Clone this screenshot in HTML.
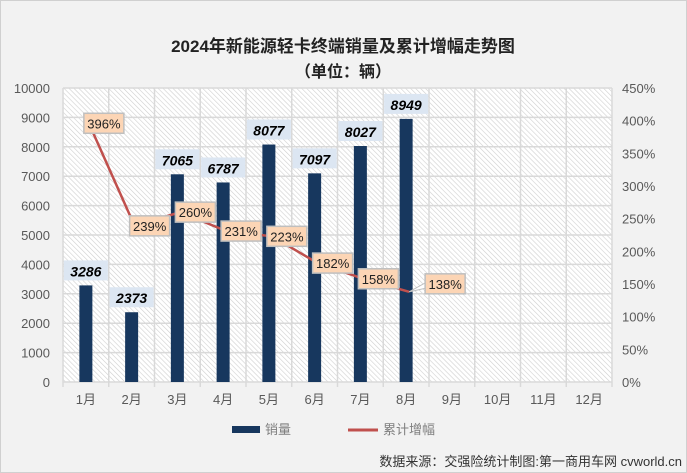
<!DOCTYPE html>
<html><head><meta charset="utf-8"><style>
body{margin:0;background:#f2f2f2;}
svg{display:block;font-family:"Liberation Sans","Noto Sans CJK SC",sans-serif;}
</style></head><body>
<svg id="chart" width="687" height="473" viewBox="0 0 687 473" xmlns="http://www.w3.org/2000/svg">
<defs>
<pattern id="hatch" width="3.5" height="3.5" patternUnits="userSpaceOnUse" patternTransform="rotate(-45)">
<rect width="3.5" height="3.5" fill="#ffffff"/><line x1="0" y1="0" x2="0" y2="3.5" stroke="#cfcfcf" stroke-width="1.2"/>
</pattern>
</defs>
<rect x="0.5" y="0.5" width="686" height="472" fill="#f2f2f2" stroke="#d0d0d0"/>
<text x="343" y="52" text-anchor="middle" font-size="17" font-weight="bold" fill="#222">2024年新能源轻卡终端销量及累计增幅走势图</text>
<text x="343" y="77" text-anchor="middle" font-size="16" font-weight="bold" fill="#222">（单位：辆）</text>
<rect x="63" y="88" width="549" height="294" fill="url(#hatch)"/>
<g id="grid"></g><g id="bars"></g><g id="line"></g><g id="labels"></g><g id="axes"></g>
<g>
<rect x="232" y="426" width="28" height="7" fill="#17375e"/>
<text x="265" y="434" font-size="13" fill="#7f7f7f">销量</text>
<line x1="348" y1="430" x2="378" y2="430" stroke="#c0504d" stroke-width="3"/>
<text x="383" y="434" font-size="13" fill="#7f7f7f">累计增幅</text>
</g>
<text x="682" y="466" text-anchor="end" font-size="13" fill="#333">数据来源：交强险统计制图:第一商用车网 cvworld.cn</text>
</svg>
<script>
const categories=["1月","2月","3月","4月","5月","6月","7月","8月","9月","10月","11月","12月"];
const sales=[3286,2373,7065,6787,8077,7097,8027,8949];
const growth=[396,239,260,231,223,182,158,138];
const leftTicks=[0,1000,2000,3000,4000,5000,6000,7000,8000,9000,10000];
const rightTicks=["0%","50%","100%","150%","200%","250%","300%","350%","400%","450%"];
const NS="http://www.w3.org/2000/svg";
const X0=63,X1=612,Y0=382,Y1=88;
const bw=(X1-X0)/categories.length;
const xc=i=>X0+bw*(i+0.5);
const yL=v=>Y0-(v/10000)*(Y0-Y1);
const yR=v=>Y0-(v/450)*(Y0-Y1);
function mk(tag,attrs,parent,txt){const e=document.createElementNS(NS,tag);for(const k in attrs)e.setAttribute(k,attrs[k]);if(txt!==undefined)e.textContent=txt;document.getElementById(parent).appendChild(e);return e;}
for(let k=0;k<=10;k++){const y=yL(k*1000);const g=mk('line',{x1:X0,x2:X1,y1:y,y2:y,stroke:'#d9d9d9','stroke-width':1.5},'grid');

}
for(let i=0;i<=categories.length;i++){const x=X0+bw*i;const g=mk('line',{x1:x,x2:x,y1:Y1,y2:Y0+5,stroke:'#d9d9d9','stroke-width':1.5},'grid');

}
leftTicks.forEach(v=>{const t=mk('text',{x:50,y:yL(v)+5,'text-anchor':'end','font-size':13,fill:'#595959'},'axes',String(v));

});
rightTicks.forEach((s,k)=>{const t=mk('text',{x:622,y:yR(k*50)+5,'font-size':13,fill:'#595959'},'axes',s);

});
categories.forEach((c,i)=>{const t=mk('text',{x:xc(i),y:404,'text-anchor':'middle','font-size':13,fill:'#595959'},'axes',c);

});
sales.forEach((v,i)=>{const r=mk('rect',{x:xc(i)-6.5,y:yL(v),width:13,height:Y0-yL(v),fill:'#17375e'},'bars');


const bx=mk('rect',{x:xc(i)-22,y:yL(v)-25,width:44,height:20,fill:'#dce6f2'},'labels');


const t=mk('text',{x:xc(i),y:yL(v)-9,'text-anchor':'middle','font-size':14,'font-weight':'bold','font-style':'italic',fill:'#000'},'labels',String(v));

});
const pts=growth.map((v,i)=>[xc(i)+3,yR(v)]);
const pl=mk('polyline',{points:pts.map(p=>p.join(',')).join(' '),fill:'none',stroke:'#c0504d','stroke-width':2.5},'line');


growth.forEach((v,i)=>{const last=i===growth.length-1;const cx=pts[i][0]+(last?36:15);const cy=pts[i][1]+(last?-8:0);
if(last){const c=mk('path',{d:`M${pts[i][0]},${pts[i][1]} L${cx-18},${cy+4} L${cx-18},${cy-2} Z`,fill:'#fff',stroke:'#bfbfbf'},'labels');

}
const b=mk('rect',{x:cx-20,y:cy-10,width:40,height:20,fill:'#fcd5b5',stroke:'#bfbfbf','stroke-width':1.5},'labels');


const t=mk('text',{x:cx,y:cy+5,'text-anchor':'middle','font-size':13,fill:'#222'},'labels',v+'%');

});
</script>
</body></html>
